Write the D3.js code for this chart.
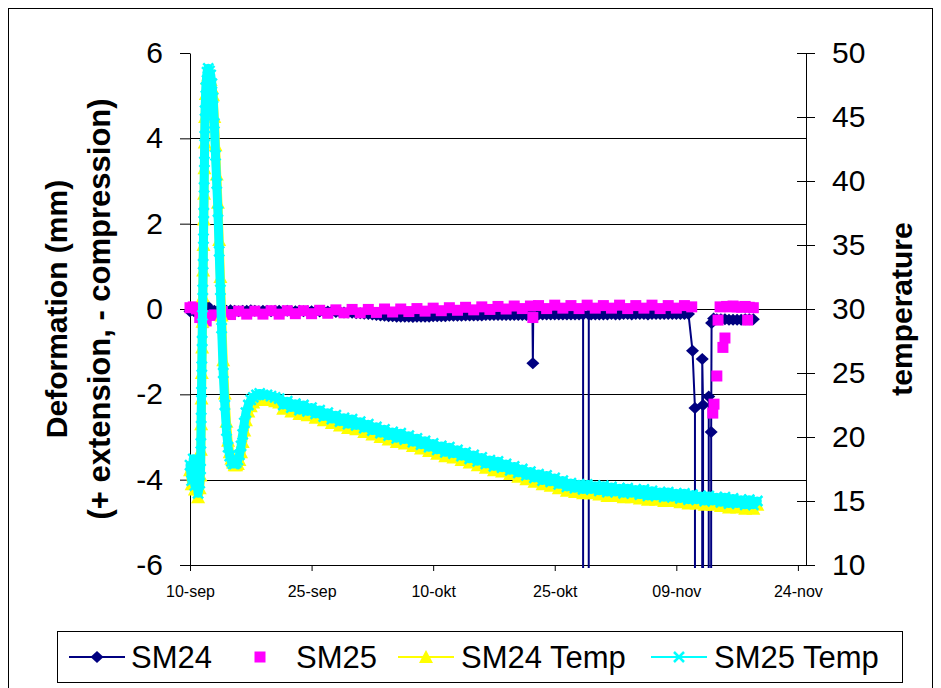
<!DOCTYPE html>
<html>
<head>
<meta charset="utf-8">
<script src="https://cdn.jsdelivr.net/npm/d3@7/dist/d3.min.js"></script>
<style>
body{margin:0;background:#fff;}
text{font-family:"Liberation Sans",Arial,sans-serif;fill:#000;}
</style>
</head>
<body>
<script>

// ---- data (days counted from 10-sep) ----
var startDay = Date.UTC(2007, 8, 10);
var endDay = Date.UTC(2007, 10, 25);

var tickDays = [0, 15, 30, 45, 60, 75];
var tickLabels = ["10-sep", "25-sep", "10-okt", "25-okt", "09-nov", "24-nov"];
var leftTicks = [-6, -4, -2, 0, 2, 4, 6];
var rightTicks = [10, 15, 20, 25, 30, 35, 40, 45, 50];
var gridValues = [-4, -2, 0, 2, 4];

var sm24Days = [0,0.5,1,1.5,2,2.5,
  3,3.5,4,4.5,5,5.5,6,6.5,7,7.5,8,8.5,9,9.5,10,10.5,11,11.5,12,12.5,13,13.5,14,14.5,15,15.5,16,16.5,
  17,17.5,18,18.5,19,19.5,20,20.5,21,21.5,22,22.5,23,23.5,
  24,24.5,25,25.5,26,26.5,27,27.5,28,28.5,29,29.5,30,30.5,31,31.5,32,32.5,33,33.5,
  34,34.5,35,35.5,36,36.5,37,37.5,38,38.5,39,39.5,40,40.5,41,41.5,42,
  42.25,42.3,42.35,
  43,43.5,44,44.5,45,45.5,46,46.5,47,47.5,48,48.5,
  48.6,49.2,
  49.5,50,50.5,51,51.5,52,52.5,53,53.5,54,54.5,55,55.5,56,56.5,57,57.5,58,58.5,59,59.5,60,60.5,61,61.5,
  62,62.3,62.4,63.2,63.3,63.4,64,64.1,64.3,64.35,64.6,
  65,65.5,66,66.5,67,67.5,68,68.5,69,69.5];
var sm24 = [-0.05,-0.05,0,0.12,0.1,0,
  -0.04,-0.03,-0.04,-0.04,-0.03,-0.04,-0.05,-0.04,-0.04,-0.03,-0.04,-0.05,-0.04,-0.04,-0.05,-0.04,-0.04,-0.05,-0.04,-0.05,-0.05,-0.04,-0.05,-0.05,-0.05,-0.05,-0.06,-0.06,
  -0.06,-0.06,-0.07,-0.07,-0.08,-0.08,-0.09,-0.1,-0.1,-0.11,-0.12,-0.13,-0.14,-0.15,
  -0.16,-0.17,-0.17,-0.18,-0.18,-0.18,-0.18,-0.19,-0.18,-0.18,-0.18,-0.18,-0.17,-0.17,-0.17,-0.17,-0.16,-0.16,-0.16,-0.16,
  -0.15,-0.15,-0.15,-0.15,-0.15,-0.14,-0.14,-0.14,-0.14,-0.14,-0.14,-0.14,-0.14,-0.14,-0.14,-0.14,-0.14,
  -0.14,-1.27,-0.13,
  -0.13,-0.13,-0.13,-0.13,-0.13,-0.13,-0.13,-0.13,-0.13,-0.13,-0.13,-0.13,
  -1000,-0.13,
  -0.13,-0.13,-0.13,-0.13,-0.13,-0.12,-0.13,-0.13,-0.12,-0.12,-0.13,-0.12,-0.12,-0.12,-0.13,-0.12,-0.12,-0.12,-0.12,-0.12,-0.12,-0.12,-0.12,-0.12,-0.12,
  -0.98,-2.32,-1000,-1.17,-2.25,-1000,-2.05,-1000,-2.88,-0.33,-0.22,
  -0.24,-0.24,-0.24,-0.25,-0.25,-0.25,-0.25,-0.24,-0.24,-0.24];

var sm25Days = [0,0.4,0.8,1.2,1.6,2,2.5,
  3,4,5,6,7,8,9,10,11,12,13,14,15,16,17,18,19,20,21,22,
  23,24,25,26,27,28,29,30,31,32,33,34,35,36,37,38,39,40,41,42,
  42.3,
  43,44,45,46,47,48,49,50,51,52,53,54,55,56,57,58,59,60,61,
  61.9,
  64.5,64.65,65,65.15,65.4,65.75,66,66.2,66.6,67,67.5,68,68.5,68.8,69,69.5];
var sm25 = [0.03,0.05,0,-0.2,-0.32,-0.28,-0.15,
  -0.14,-0.06,-0.13,-0.05,-0.12,-0.05,-0.12,-0.04,-0.12,-0.04,-0.11,-0.04,-0.11,-0.03,-0.1,-0.02,-0.09,-0.01,-0.09,-0.01,
  -0.08,0,-0.07,0,-0.06,0.01,-0.05,0.02,-0.04,0.03,-0.03,0.04,-0.02,0.05,-0.01,0.06,0,0.07,0.01,0.07,
  -0.2,
  0.08,0.01,0.09,0.02,0.08,0.01,0.09,0.02,0.08,0.02,0.09,0.01,0.08,0.02,0.09,0.01,0.08,0.02,0.08,
  0.05,
  -2.44,-2.23,-1.57,-0.26,0.05,-0.9,-0.68,0.06,0.05,0.07,0.05,0.04,0.06,-0.26,0.04,0.03];

var tempDays = [0,0.2,0.4,0.6,0.8,1,1.2,
  1.3,1.34,1.38,1.42,1.46,1.5,1.54,1.58,1.62,1.66,1.7,1.74,1.78,1.82,1.86,
  1.95,2.1,2.25,2.4,2.55,2.7,
  2.85,3,3.15,3.3,3.45,3.6,3.75,3.9,4.1,4.3,4.5,4.7,4.9,5.1,5.3,5.5,5.7,
  5.9,6.1,6.3,6.5,6.7,6.9,7.2,7.5,7.8,8.2,8.6,9,9.5,10,10.5,
  11,11.5,12,12.5,13,13.5,14,14.5,15,15.5,16,16.5,17,17.5,18,18.5,19,19.5,20,20.5,
  21,21.5,22,22.5,23,23.5,24,24.5,25,25.5,26,26.5,27,27.5,28,28.5,29,29.5,30,30.5,
  31,31.5,32,32.5,33,33.5,34,34.5,35,35.5,36,36.5,37,37.5,38,38.5,39,39.5,40,40.5,
  41,41.5,42,42.5,43,43.5,44,44.5,45,45.5,46,46.5,47,47.5,48,48.5,49,49.5,50,50.5,
  51,51.5,52,52.5,53,53.5,54,54.5,55,55.5,56,56.5,57,57.5,58,58.5,59,59.5,60,60.5,
  61,61.5,62,62.5,63,63.5,64,64.5,65,65.5,66,66.5,67,67.5,68,68.5,69,69.5,70];

var sm24Temp = [17.4,16.3,17.9,15.9,17.0,15.3,16.0,
  17.0,19.0,21.0,23.0,25.0,27.0,29.0,31.0,33.0,35.0,37.0,39.0,41.0,43.0,45.0,
  46.8,48.0,48.3,48.2,47.9,47.3,
  46.7,45.0,42.8,40.5,38.3,35.4,32.5,29.5,26.0,23.4,21.2,19.7,18.8,18.3,18.0,17.8,17.8,
  17.9,18.2,18.8,19.6,20.5,21.3,22.0,22.4,22.7,22.9,23.0,23.0,22.9,22.9,22.8,
  22.7,22.2,22.5,22.0,22.3,21.8,22.2,21.7,22.0,21.5,
  21.8,21.3,21.6,21.1,21.4,20.9,21.2,20.7,21.1,20.6,
  20.9,20.4,20.7,20.2,20.5,20.0,20.3,19.8,20.1,19.6,
  20.0,19.5,19.8,19.3,19.6,19.1,19.4,18.9,19.2,18.7,
  19.0,18.5,18.9,18.4,18.7,18.2,18.5,18.0,18.3,17.8,
  18.1,17.6,17.9,17.4,17.8,17.3,17.6,17.1,17.4,16.9,
  17.2,16.7,17.0,16.5,16.8,16.3,16.7,16.2,16.5,16.0,
  16.3,15.8,16.1,15.7,16.0,15.6,16.0,15.6,15.9,15.5,
  15.9,15.4,15.8,15.4,15.7,15.3,15.7,15.3,15.6,15.2,
  15.6,15.1,15.5,15.1,15.4,15.0,15.4,15.0,15.3,14.9,
  15.3,14.8,15.2,14.8,15.1,14.7,15.1,14.7,15.0,14.6,
  15.0,14.5,14.9,14.5,14.8,14.4,14.8,14.4,14.7];

var sm25Temp = [17.8,16.6,18.3,16.2,17.5,15.6,16.4,
  17.5,19.5,21.5,23.5,25.5,27.5,29.5,31.5,33.5,35.5,37.5,39.5,41.5,43.5,45.5,
  47.3,48.5,48.8,48.6,48.3,47.6,
  46.5,44.5,42.0,39.8,37.6,34.5,31.5,28.5,25.0,22.5,20.5,19.2,18.5,18.1,17.9,17.9,18.0,
  18.2,18.6,19.3,20.2,21.1,21.9,22.5,22.9,23.1,23.3,23.4,23.3,23.3,23.2,23.1,
  23.0,22.5,22.8,22.3,22.6,22.1,22.5,22.0,22.3,21.8,
  22.1,21.6,21.9,21.4,21.7,21.2,21.5,21.0,21.4,20.9,
  21.2,20.7,21.0,20.5,20.8,20.3,20.6,20.1,20.4,19.9,
  20.3,19.8,20.1,19.6,19.9,19.4,19.7,19.2,19.5,19.0,
  19.3,18.8,19.2,18.7,19.0,18.5,18.8,18.3,18.6,18.1,
  18.4,17.9,18.2,17.7,18.1,17.6,17.9,17.4,17.7,17.2,
  17.5,17.0,17.3,16.8,17.1,16.6,17.0,16.5,16.8,16.3,
  16.6,16.1,16.4,16.0,16.3,15.9,16.3,15.9,16.2,15.8,
  16.2,15.7,16.1,15.7,16.0,15.6,16.0,15.6,15.9,15.5,
  15.9,15.4,15.8,15.4,15.7,15.3,15.7,15.3,15.6,15.2,
  15.6,15.1,15.5,15.1,15.4,15.0,15.4,15.0,15.3,14.9,
  15.3,14.8,15.2,14.8,15.1,14.7,15.1,14.7,15.0];

// ---- layout ----
var width = 941, height = 688;
var plot = {left: 190, right: 806, top: 53, bottom: 565};

var toDate = function(d){ return new Date(startDay + d * 864e5); };

var x = d3.scaleUtc()
    .domain([new Date(startDay), new Date(endDay)])
    .range([plot.left, plot.right]);
var yL = d3.scaleLinear().domain([-6, 6]).range([plot.bottom, plot.top]);
var yR = d3.scaleLinear().domain([10, 50]).range([plot.bottom, plot.top]);

// trail = width of the band left by the densely packed markers of the logger series
var series = [
  {name: "SM24", days: sm24Days, values: sm24, y: yL, color: "#000080", line: true, marker: "diamond", trail: 0},
  {name: "SM25", days: sm25Days, values: sm25, y: yL, color: "#FF00FF", line: false, marker: "square", trail: 0},
  {name: "SM24 Temp", days: tempDays, values: sm24Temp, y: yR, color: "#FFFF00", line: true, marker: "triangle", trail: 9},
  {name: "SM25 Temp", days: tempDays, values: sm25Temp, y: yR, color: "#00FFFF", line: true, marker: "cross", trail: 9}
];
series.forEach(function(s){
  if (s.days.length !== s.values.length) throw new Error(s.name + " length " + s.days.length + " vs " + s.values.length);
});

var svg = d3.select("body").append("svg")
    .attr("width", width)
    .attr("height", height);

svg.append("rect")
    .attr("width", width).attr("height", height)
    .attr("fill", "#fff");

// outer frame
svg.append("rect")
    .attr("x", 8.5).attr("y", 8.5)
    .attr("width", 924).attr("height", 700)
    .attr("fill", "none").attr("stroke", "#000").attr("stroke-width", 1);

svg.append("clipPath").attr("id", "clip")
  .append("rect")
    .attr("x", plot.left - 10).attr("y", plot.top - 10)
    .attr("width", plot.right - plot.left + 20)
    .attr("height", plot.bottom - plot.top + 13);

// gridlines
svg.append("g").selectAll("line")
    .data(gridValues)
  .enter().append("line")
    .attr("x1", plot.left).attr("x2", plot.right)
    .attr("y1", function(d){ return Math.round(yL(d)) + 0.5; })
    .attr("y2", function(d){ return Math.round(yL(d)) + 0.5; })
    .attr("stroke", "#000").attr("stroke-width", 1);

// axes
var leftAxis = d3.axisLeft(yL)
    .tickValues(leftTicks)
    .tickSize(10).tickSizeOuter(0).tickPadding(17)
    .tickFormat(function(d){ return String(d); });
var gl = svg.append("g")
    .attr("transform", "translate(" + plot.left + ",0)")
    .call(leftAxis);

var rightAxis = d3.axisRight(yR)
    .tickValues(rightTicks)
    .tickSize(9).tickSizeOuter(0).tickPadding(17)
    .tickFormat(function(d){ return String(d); });
var gr = svg.append("g")
    .attr("transform", "translate(" + plot.right + ",0)")
    .call(rightAxis);
gr.selectAll(".tick line").attr("x1", -9);

var bottomAxis = d3.axisBottom(x)
    .tickValues(tickDays.map(toDate))
    .tickSize(6).tickSizeOuter(0).tickPadding(15)
    .tickFormat(function(d, i){ return tickLabels[i]; });
var gb = svg.append("g")
    .attr("transform", "translate(0," + plot.bottom + ")")
    .call(bottomAxis);

[gl, gr, gb].forEach(function(g){
  g.selectAll("path.domain").attr("stroke", "#000").attr("stroke-width", 1);
  g.selectAll(".tick line").attr("stroke", "#000");
  g.selectAll("text").attr("fill", "#000").style("font-family", "'Liberation Sans', Arial, sans-serif");
});
gl.selectAll("text").style("font-size", "30px");
gr.selectAll("text").style("font-size", "30px");
gb.selectAll("text").style("font-size", "16px");

// axis titles
svg.append("text")
    .attr("transform", "translate(67," + yL(0) + ") rotate(-90)")
    .attr("text-anchor", "middle")
    .style("font-size", "30px").style("font-weight", "bold")
    .text("Deformation (mm)");
svg.append("text")
    .attr("transform", "translate(110," + yL(0) + ") rotate(-90)")
    .attr("text-anchor", "middle")
    .style("font-size", "31px").style("font-weight", "bold")
    .text("(+ extension, - compression)");
svg.append("text")
    .attr("transform", "translate(912," + yL(0) + ") rotate(-90)")
    .attr("text-anchor", "middle")
    .style("font-size", "30px").style("font-weight", "bold")
    .text("temperature");

// markers
function drawMarker(g, type, color){
  if (type === "diamond") {
    g.append("path").attr("d", "M0,-6L6.5,0L0,6L-6.5,0Z").attr("fill", color);
  } else if (type === "square") {
    g.append("rect").attr("x", -5.5).attr("y", -5.5).attr("width", 11).attr("height", 11).attr("fill", color);
  } else if (type === "triangle") {
    g.append("path").attr("d", "M0,-7L7,6L-7,6Z").attr("fill", color);
  } else if (type === "cross") {
    g.append("path").attr("d", "M-5,-5L5,5M-5,5L5,-5")
        .attr("stroke", color).attr("stroke-width", 2.5).attr("fill", "none");
  }
}

var plotG = svg.append("g");

series.forEach(function(s){
  var pts = s.days.map(function(d, i){ return [x(toDate(d)), s.y(s.values[i])]; });
  var g = plotG.append("g").attr("class", "series");
  if (s.trail) {
    g.append("path")
        .datum(pts)
        .attr("d", d3.line())
        .attr("fill", "none")
        .attr("stroke", s.color)
        .attr("stroke-width", s.trail)
        .attr("stroke-linejoin", "round")
        .attr("stroke-linecap", "round");
  }
  if (s.line) {
    g.append("path")
        .datum(pts)
        .attr("clip-path", "url(#clip)")
        .attr("d", d3.line())
        .attr("fill", "none")
        .attr("stroke", s.color)
        .attr("stroke-width", 2);
  }
  g.selectAll("g.pt")
      .data(pts.filter(function(p){ return p[1] > -100 && p[1] < height + 100; }))
    .enter().append("g")
      .attr("class", "pt")
      .attr("transform", function(p){ return "translate(" + p[0] + "," + p[1] + ")"; })
      .each(function(){ drawMarker(d3.select(this), s.marker, s.color); });
});

// legend
var legend = svg.append("g");
legend.append("rect")
    .attr("x", 57.5).attr("y", 631.5)
    .attr("width", 845).attr("height", 51)
    .attr("fill", "#fff").attr("stroke", "#000").attr("stroke-width", 1);

var legendItems = [
  {sample: 69, text: 131},
  {sample: 232, text: 296},
  {sample: 398, text: 461},
  {sample: 651, text: 714}
];
series.forEach(function(s, i){
  var it = legendItems[i];
  var g = legend.append("g");
  if (s.line) {
    g.append("line")
        .attr("x1", it.sample).attr("x2", it.sample + 56)
        .attr("y1", 657).attr("y2", 657)
        .attr("stroke", s.color).attr("stroke-width", 2);
  }
  var m = g.append("g").attr("transform", "translate(" + (it.sample + 28) + ",657)");
  drawMarker(m, s.marker, s.color);
  g.append("text")
      .attr("x", it.text).attr("y", 668)
      .style("font-size", "31px")
      .text(s.name);
});

</script>
</body>
</html>
